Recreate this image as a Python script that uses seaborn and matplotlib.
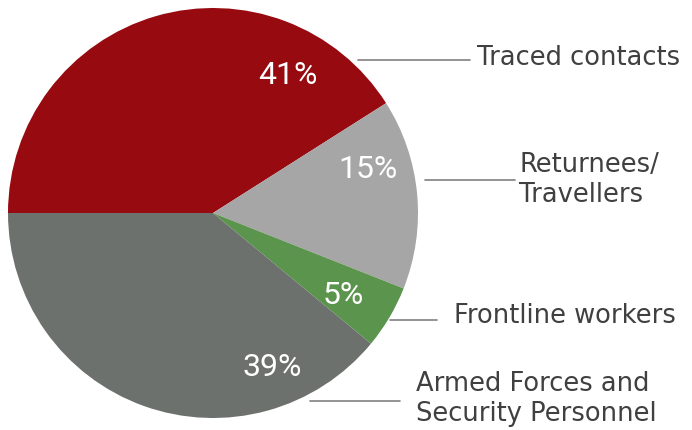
import matplotlib
matplotlib.use("Agg")
import matplotlib.pyplot as plt
import seaborn as sns

categories = ["Traced contacts", "Returnees/\nTravellers", "Frontline workers",
              "Armed Forces and\nSecurity Personnel"]
shares = [41, 15, 5, 39]
pct_labels = ["41%", "15%", "5%", "39%"]
colors = ["#960A10", "#A6A6A6", "#5B944C", "#6C716E"]

sns.set_theme(style="white")
plt.rcParams['font.family'] = ['DejaVu Sans']

W, H = 692, 430
fig = plt.figure(figsize=(W / 100, H / 100), dpi=100)
cx, cy, R = 213, 213, 205
ax = fig.add_axes([(cx - R) / W, (H - cy - R) / H, 2 * R / W, 2 * R / H])
ax.pie(shares, colors=colors, startangle=180, counterclock=False,
       radius=1, wedgeprops=dict(linewidth=0))
ax.set_xlim(-1, 1)
ax.set_ylim(-1, 1)
ax.set_aspect("equal")
ax.axis("off")

def to_data(px, py):
    return (px - cx) / R, (cy - py) / R

# percentage labels (pixel centres)
pct_pos = [(288, 75), (368, 169), (343, 295), (272, 367)]
for txt, (px, py) in zip(pct_labels, pct_pos):
    x, y = to_data(px, py)
    ax.text(x, y, txt, color="white", fontsize=23, family="Roboto",
            ha="center", va="center")

# outer labels with leader lines
lines = [((358, 470), 60), ((425, 515), 180), ((390, 437), 320), ((310, 400), 401)]
text_pos = [(477, 58), (519, 180), (454, 316), (416, 399)]
for cat, ((x0, x1), ly), (tx, ty) in zip(categories, lines, text_pos):
    fig.add_artist(plt.Line2D([x0 / W, x1 / W], [1 - ly / H, 1 - ly / H],
                              color="#808080", linewidth=1.2))
    fig.text(tx / W, 1 - ty / H, cat, color="#404040", fontsize=18.5,
             ha="left", va="center", linespacing=1.2)

fig.savefig("out.png", dpi=100)
